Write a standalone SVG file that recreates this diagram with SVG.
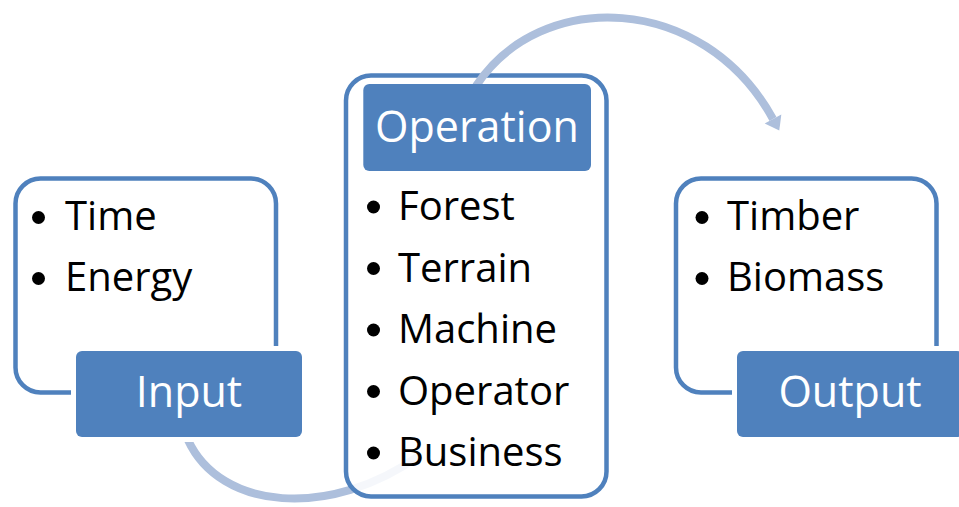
<svg xmlns="http://www.w3.org/2000/svg" width="959" height="507" viewBox="0 0 959 507">
<defs>
<style>
.box{fill:#fff;stroke:#4F81BD;stroke-width:4.5}
.lbl{fill:#4F81BD;stroke:#fff;stroke-width:10;paint-order:stroke}
.lt{font-family:"Open Sans","Liberation Sans",sans-serif;font-size:43px;fill:#fff;text-anchor:middle}
.it{font-family:"Open Sans","Liberation Sans",sans-serif;font-size:40px;fill:#000}
.bu{fill:#000}
.arc{fill:none;stroke:#ADBFDC;stroke-width:8}
</style>
<marker id="ah" markerUnits="userSpaceOnUse" markerWidth="20" markerHeight="24" refX="0" refY="10" orient="auto" viewBox="0 0 20 20" overflow="visible">
<path d="M0,0.5 L13,10 L0,19.5 z" fill="#ADBFDC"/>
</marker>
</defs>
<g id="connectors-back">
<path class="arc" d="M188 440 C220 510,330 520,420 455"/>
</g>
<g id="input">
<rect class="box" x="15.5" y="178.5" width="260.5" height="214" rx="25"/>
<circle class="bu" cx="38.5" cy="217.5" r="6.5"/><text class="it" x="65" y="230">Time</text>
<circle class="bu" cx="38.5" cy="278.5" r="6.5"/><text class="it" x="65" y="291">Energy</text>
<rect class="lbl" x="76" y="351" width="226" height="86" rx="6"/>
<text class="lt" x="189" y="407">Input</text>
</g>
<g id="operation">
<rect class="box" style="fill-opacity:0.88" x="346" y="75.5" width="260.5" height="421" rx="25"/>
<circle class="bu" cx="373.5" cy="207" r="6.5"/><text class="it" x="398" y="220">Forest</text>
<circle class="bu" cx="373.5" cy="268.5" r="6.5"/><text class="it" x="398" y="281.5">Terrain</text>
<circle class="bu" cx="373.5" cy="330" r="6.5"/><text class="it" x="398" y="343">Machine</text>
<circle class="bu" cx="373.5" cy="391.5" r="6.5"/><text class="it" x="398" y="404.5">Operator</text>
<circle class="bu" cx="373.5" cy="453" r="6.5"/><text class="it" x="398" y="466">Business</text>
</g>
<g id="connectors">
<path class="arc" d="M476 86 C540 -12,703 -8,773 119" marker-end="url(#ah)"/>
</g>
<g id="operation-label">
<rect x="363.3" y="84" width="227.7" height="87" rx="6" fill="#4F81BD"/>
<text class="lt" x="477" y="142">Operation</text>
</g>
<g id="output">
<rect class="box" x="676" y="178.5" width="260.5" height="214" rx="25"/>
<circle class="bu" cx="702" cy="217.5" r="6.5"/><text class="it" x="727" y="230">Timber</text>
<circle class="bu" cx="702" cy="278.5" r="6.5"/><text class="it" x="727" y="291">Biomass</text>
<rect class="lbl" x="737" y="351" width="226" height="86" rx="6"/>
<text class="lt" x="850" y="407">Output</text>
</g>
</svg>
